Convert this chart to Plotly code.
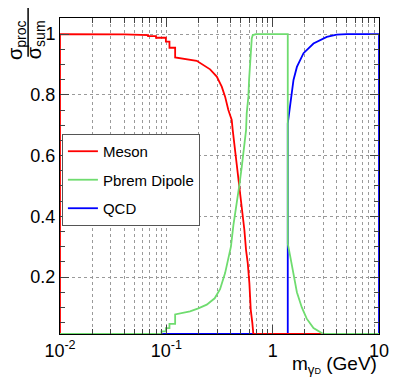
import numpy as np
import plotly.graph_objects as go

# fractions (x = m_gammaD in GeV)
meson_x = [0.01, 0.01, 0.04, 0.0673, 0.0673, 0.080, 0.080, 0.099, 0.099, 0.107, 0.107, 0.121,
           0.121, 0.193, 0.258, 0.298, 0.332, 0.357, 0.383, 0.412, 0.421, 0.443, 0.459, 0.475,
           0.493, 0.512, 0.530, 0.542, 0.562, 0.583, 0.604, 0.622, 0.644, 0.658, 0.658, 10.0]
meson_y = [0, 1.0, 0.999, 0.997, 0.993, 0.993, 0.988, 0.988, 0.975, 0.975, 0.955, 0.955,
           0.923, 0.912, 0.884, 0.860, 0.827, 0.794, 0.750, 0.717, 0.684, 0.618, 0.576, 0.520,
           0.465, 0.421, 0.388, 0.355, 0.289, 0.246, 0.180, 0.092, 0.049, 0.015, 0, 0]

pbrem_x = [0.01, 0.080, 0.080, 0.090, 0.090, 0.099, 0.099, 0.107, 0.107, 0.121, 0.121,
           0.167, 0.20, 0.24, 0.285, 0.320, 0.357, 0.383, 0.405, 0.427, 0.459, 0.486, 0.512,
           0.550, 0.562, 0.570, 0.591, 0.600, 0.613, 0.622, 0.636, 0.650, 0.698, 1.387, 1.387,
           1.46, 1.57, 1.69, 1.88, 2.09, 2.42, 3.0, 3.2, 10.0]
pbrem_y = [0, 0, 0.012, 0.012, 0.021, 0.021, 0.032, 0.032, 0.046, 0.046, 0.077,
           0.087, 0.097, 0.109, 0.130, 0.160, 0.213, 0.257, 0.300, 0.370, 0.440, 0.503, 0.563,
           0.651, 0.684, 0.739, 0.794, 0.849, 0.904, 0.958, 0.986, 0.997, 1.0, 1.0, 0.31,
           0.27, 0.205, 0.15, 0.10, 0.063, 0.032, 0.008, 0, 0]

qcd_x = [0.01, 1.387, 1.387, 1.43, 1.46, 1.57, 1.69, 1.95, 2.42, 3.23, 4.0, 5.0, 10.0, 10.0]
qcd_y = [0, 0, 0.706, 0.739, 0.772, 0.849, 0.892, 0.937, 0.969, 0.991, 0.998, 1.0, 1.0, 0]

y_ticks = [0.2, 0.4, 0.6, 0.8, 1.0]
y_ticktext = ["0.2", "0.4", "0.6", "0.8", "1"]
x_ticks = [0.01, 0.1, 1, 10]
x_ticktext = ["10<sup>-2</sup>", "10<sup>-1</sup>", "1", "10"]

YMIN, YMAX = 0.0125, 1.053
FONT = "Liberation Sans, Arial, sans-serif"

x_minor = [m * 10.0 ** e for e in (-2, -1, 0) for m in range(2, 10)]


def clip(v):
    # ROOT draws empty bins on the frame bottom
    return np.maximum(np.array(v, dtype=float), YMIN)


fig = go.Figure()
# draw order as in the reference: QCD, Meson, Pbrem on top
fig.add_trace(go.Scatter(x=qcd_x, y=clip(qcd_y), mode="lines", name="QCD",
                         line=dict(color="#0000ff", width=1.8), legendrank=3, legendgroup="c"))
fig.add_trace(go.Scatter(x=meson_x, y=clip(meson_y), mode="lines", name="Meson",
                         line=dict(color="#ff0000", width=1.8), legendrank=1, legendgroup="a"))
fig.add_trace(go.Scatter(x=pbrem_x, y=clip(pbrem_y), mode="lines", name="Pbrem Dipole",
                         line=dict(color="#6fdc6f", width=1.8), legendrank=2, legendgroup="b"))

# page body adds an 8px margin, so the figure is 8px smaller than the window
fig.update_layout(
    width=391, height=377,
    margin=dict(l=52, r=20, t=10, b=51),
    paper_bgcolor="white", plot_bgcolor="white",
    font=dict(family=FONT, size=18, color="black"),
    showlegend=True,
    legend=dict(x=0.006, y=0.633, xanchor="left", yanchor="top",
                bgcolor="white", bordercolor="#555555", borderwidth=1,
                font=dict(size=15), itemwidth=30, tracegroupgap=6),
    xaxis=dict(type="log", range=[-2, 1], tickvals=x_ticks, ticktext=x_ticktext,
               ticks="inside", ticklen=9, showline=True, linecolor="black", mirror="ticks",
               showgrid=True, gridcolor="#9a9a9a", griddash="dot", gridwidth=1, zeroline=False,
               minor=dict(tickvals=x_minor, ticks="inside", ticklen=5, showgrid=True,
                          gridcolor="#9a9a9a", griddash="dot")),
    yaxis=dict(range=[YMIN, YMAX], tickvals=y_ticks, ticktext=y_ticktext,
               ticks="inside", ticklen=9, showline=True, linecolor="black", mirror="ticks",
               showgrid=True, gridcolor="#9a9a9a", griddash="dot", gridwidth=1, zeroline=False,
               minor=dict(dtick=0.05, ticks="inside", ticklen=5, showgrid=False)),
)

# x title, right aligned as in ROOT
fig.add_annotation(text="m<sub>γ<span style='font-size:9px'>D</span></sub> (GeV)",
                   xref="paper", yref="paper", x=1.0, y=-0.098, xanchor="right",
                   yanchor="middle", showarrow=False, font=dict(size=19))

# y title: sigma_proc / sigma_sum fraction, rotated
fig.add_annotation(text="σ<sub>proc</sub>", xref="paper", yref="paper",
                   x=-0.138, y=0.93, xanchor="center", yanchor="middle",
                   textangle=-90, showarrow=False, font=dict(size=20))
fig.add_annotation(text="σ<sub>sum</sub>", xref="paper", yref="paper",
                   x=-0.078, y=0.93, xanchor="center", yanchor="middle",
                   textangle=-90, showarrow=False, font=dict(size=20))
fig.add_shape(type="line", xref="paper", yref="paper", x0=-0.100, x1=-0.100,
              y0=0.877, y1=1.038, line=dict(color="black", width=1.5))

fig.write_html("out.html")
